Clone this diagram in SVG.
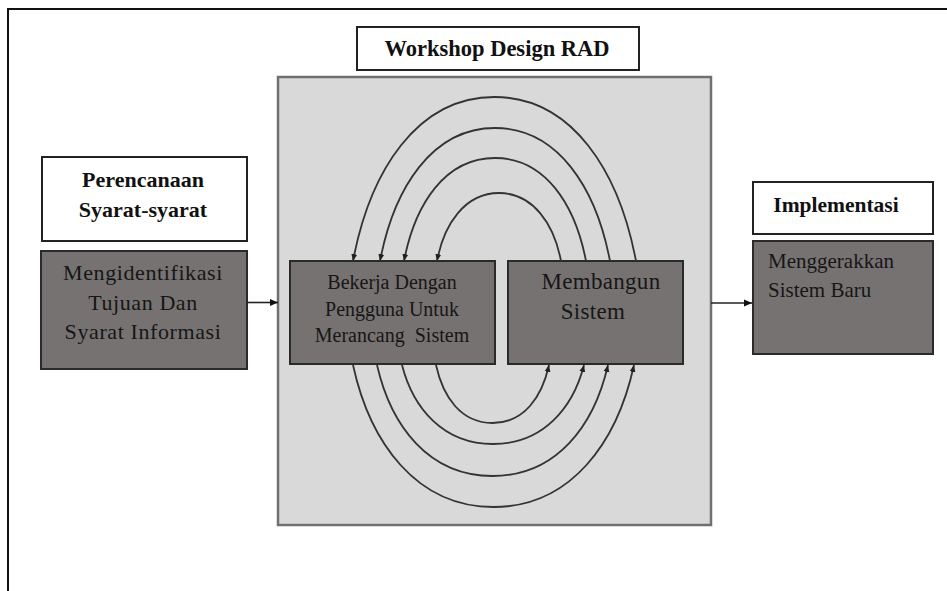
<svg xmlns="http://www.w3.org/2000/svg" width="947" height="591" viewBox="0 0 947 591">
  <style>
    .frame { fill: none; stroke: #111; stroke-width: 2; }
    .wbox { fill: #ffffff; stroke: #222; stroke-width: 2; }
    .dbox { fill: #767272; stroke: #2a2a2a; stroke-width: 2; }
    .gbox { fill: #d9d9d9; stroke: #707070; stroke-width: 2.5; }
    .bold { font-family: "Liberation Serif", "Times New Roman", serif; font-weight: bold; fill: #111; text-anchor: middle; }
    .reg { font-family: "Liberation Serif", "Times New Roman", serif; fill: #161616; }
    .arc { fill: none; stroke: #333; stroke-width: 1.8; marker-end: url(#ah); }
    .conn { fill: none; stroke: #222; stroke-width: 1.6; marker-end: url(#ah2); }
  </style>
  <defs>
    <marker id="ah" markerUnits="userSpaceOnUse" markerWidth="8" markerHeight="8" viewBox="0 0 8 8" refX="7" refY="4" orient="auto">
      <path d="M0,1 L7,4 L0,7 Z" fill="#222"/>
    </marker>
    <marker id="ah2" markerUnits="userSpaceOnUse" markerWidth="9" markerHeight="9" viewBox="0 0 9 9" refX="8" refY="4.5" orient="auto">
      <path d="M0,1 L8,4.5 L0,8 Z" fill="#111"/>
    </marker>
  </defs>

  <g id="frame">
    <line class="frame" x1="7" y1="9" x2="947" y2="9"/>
    <line class="frame" x1="8" y1="9" x2="8" y2="591"/>
  </g>

  <g id="workshop">
    <rect class="gbox" x="278" y="77" width="433" height="448"/>
  </g>

  <g id="title">
    <rect class="wbox" x="357" y="27" width="282" height="43"/>
    <text class="bold" x="497" y="56" font-size="22.5">Workshop Design RAD</text>
  </g>

  <g id="perencanaan">
    <rect class="wbox" x="42" y="157" width="205" height="84"/>
    <text class="bold" x="143" y="187" font-size="22">Perencanaan</text>
    <text class="bold" x="143" y="217" font-size="22">Syarat-syarat</text>
  </g>

  <g id="mengidentifikasi">
    <rect class="dbox" x="41" y="251" width="206" height="118"/>
    <text class="reg" text-anchor="middle" x="143" y="280" font-size="22" letter-spacing="0.6">Mengidentifikasi</text>
    <text class="reg" text-anchor="middle" x="143" y="310" font-size="22" letter-spacing="0.6">Tujuan Dan</text>
    <text class="reg" text-anchor="middle" x="143" y="339" font-size="22" letter-spacing="0.6">Syarat Informasi</text>
  </g>

  <g id="bekerja">
    <rect class="dbox" x="290" y="261" width="205" height="103"/>
    <text class="reg" text-anchor="middle" x="392" y="289" font-size="20">Bekerja Dengan</text>
    <text class="reg" text-anchor="middle" x="392" y="316" font-size="20">Pengguna Untuk</text>
    <text class="reg" text-anchor="middle" x="392" y="342" font-size="20" xml:space="preserve">Merancang  Sistem</text>
  </g>

  <g id="membangun">
    <rect class="dbox" x="508" y="261" width="175" height="103"/>
    <text class="reg" text-anchor="middle" x="601" y="289" font-size="23" letter-spacing="0.3">Membangun</text>
    <text class="reg" text-anchor="middle" x="593" y="319" font-size="23" letter-spacing="0.3">Sistem</text>
  </g>

  <g id="implementasi">
    <rect class="wbox" x="753" y="182" width="180" height="52"/>
    <text class="bold" x="836" y="212" font-size="21.5">Implementasi</text>
  </g>

  <g id="menggerakkan">
    <rect class="dbox" x="753" y="241" width="180" height="113"/>
    <text class="reg" x="768" y="268" font-size="21">Menggerakkan</text>
    <text class="reg" x="768" y="297" font-size="21">Sistem Baru</text>
  </g>

  <g id="connectors">
    <line class="conn" x1="247" y1="302.5" x2="278" y2="302.5"/>
    <line class="conn" x1="711" y1="303" x2="752" y2="303"/>
    <path class="arc" d="M636 261 C619 171 572 97 494.5 97 C417 97 370 171 353 261"/>
    <path class="arc" d="M610 261 C596 188 558 128 495 128 C432 128 394 188 380 261"/>
    <path class="arc" d="M586 261 C575 204 545 158 495 158 C445 158 415 204 404 261"/>
    <path class="arc" d="M561 261 C554 224 533 193 499 193 C465 193 444 224 437 261"/>
    <path class="arc" d="M436 365 C443 397 461 423 492.5 423 C524 423 542 397 549 365"/>
    <path class="arc" d="M402 365 C413 408 443 444 493 444 C543 444 573 408 584 365"/>
    <path class="arc" d="M377 365 C391 426 428.5 476 492.5 476 C556.5 476 594 426 608 365"/>
    <path class="arc" d="M353 365 C370 443 416.5 507 493.5 507 C570.5 507 617 443 634 365"/>
  </g>
</svg>
